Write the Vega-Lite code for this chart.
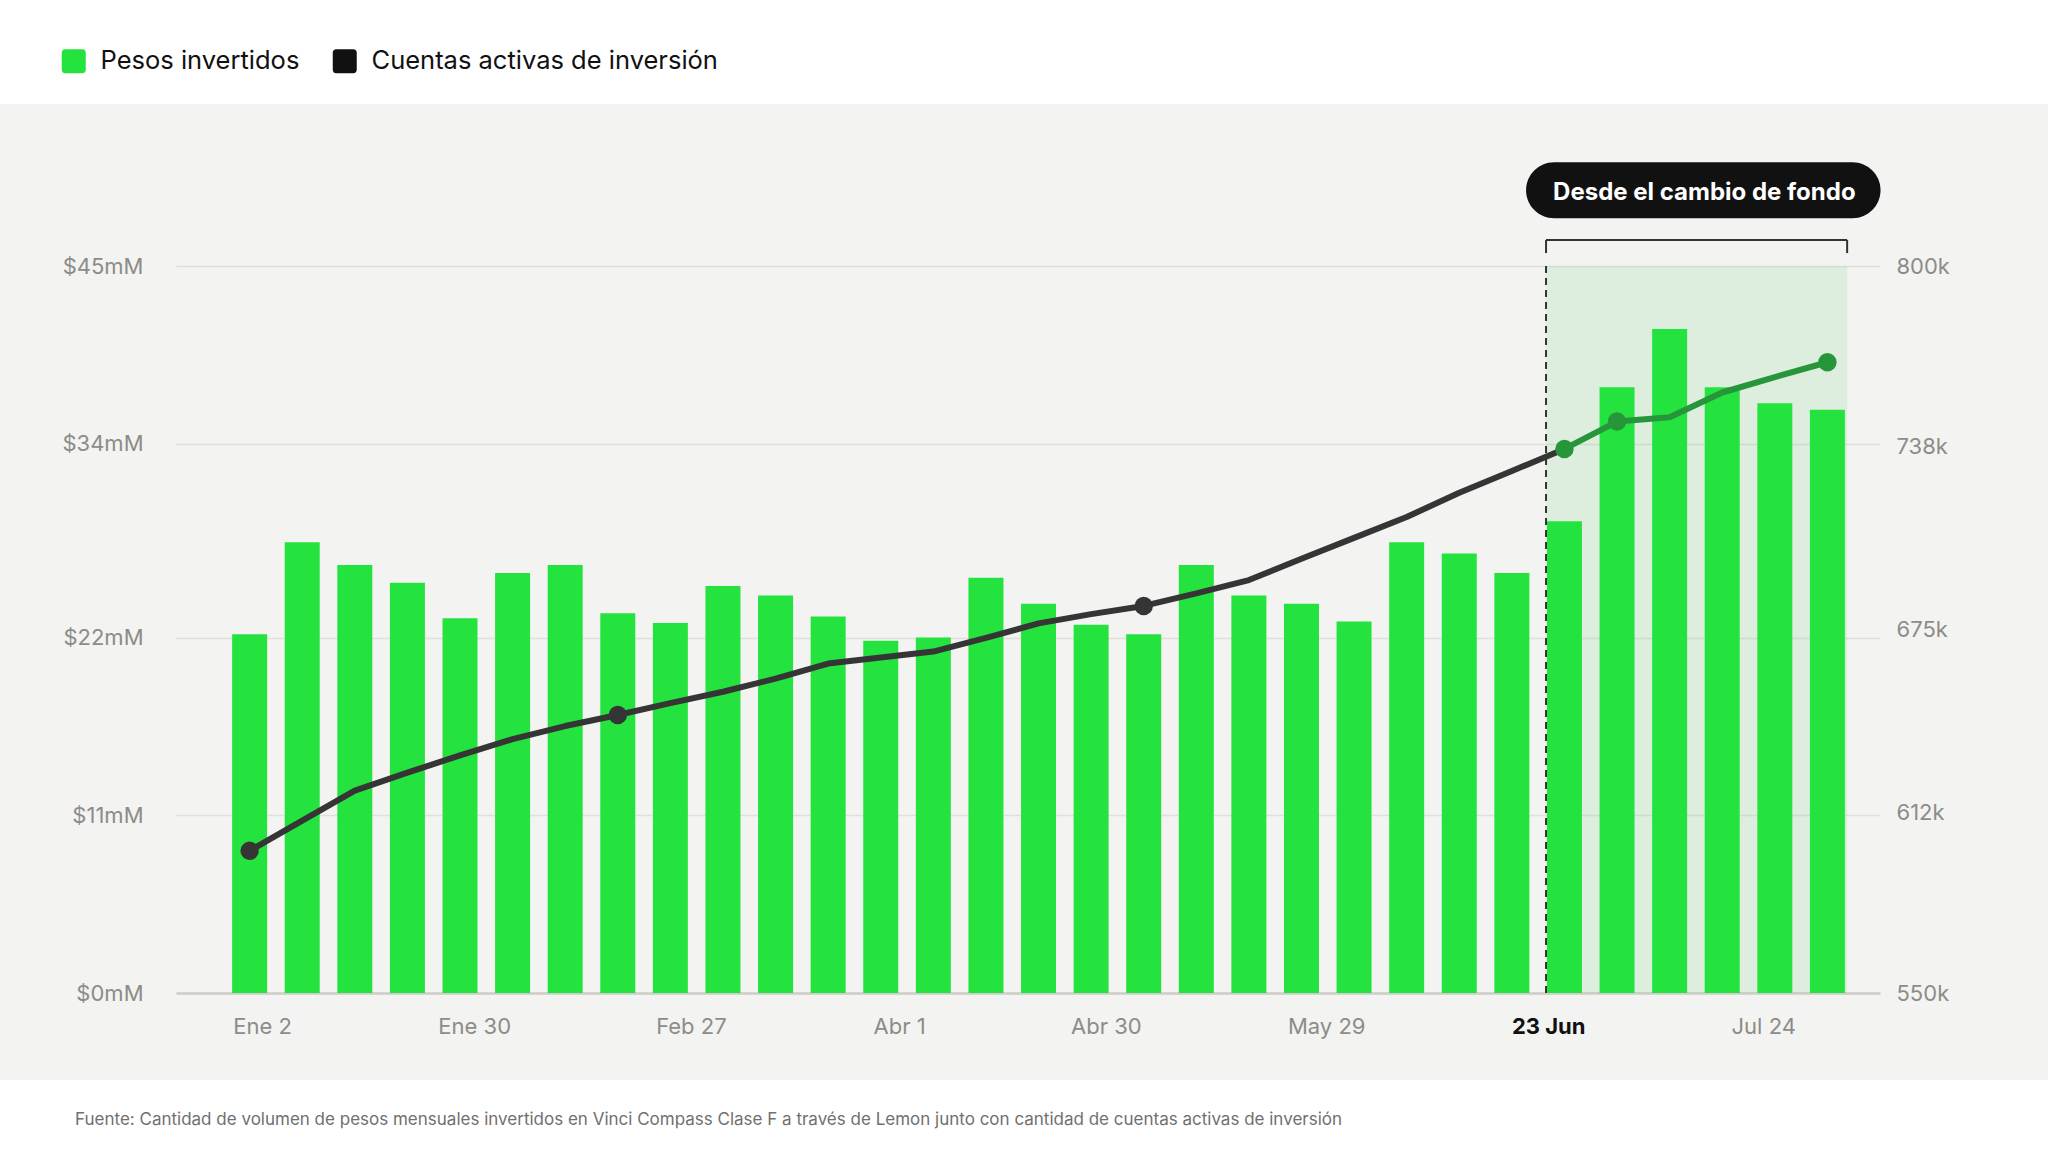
{
  "$schema": "https://vega.github.io/schema/vega-lite/v6.json",
  "width": 1704,
  "height": 727,
  "autosize": {"type": "none"},
  "padding": {"left": 176, "top": 266, "right": 168, "bottom": 159},
  "background": "#f3f3f1",
  "config": {"font": "Inter", "view": {"stroke": null}},
  "data": {
    "values": [
      {"semana": 1, "pesos": 22.2, "cuentas": 598900},
      {"semana": 2, "pesos": 27.9, "cuentas": 609300},
      {"semana": 3, "pesos": 26.5, "cuentas": 619600},
      {"semana": 4, "pesos": 25.4, "cuentas": 625800},
      {"semana": 5, "pesos": 23.2, "cuentas": 631700},
      {"semana": 6, "pesos": 26.0, "cuentas": 637300},
      {"semana": 7, "pesos": 26.5, "cuentas": 641800},
      {"semana": 8, "pesos": 23.5, "cuentas": 645600},
      {"semana": 9, "pesos": 22.9, "cuentas": 649700},
      {"semana": 10, "pesos": 25.2, "cuentas": 653600},
      {"semana": 11, "pesos": 24.6, "cuentas": 658100},
      {"semana": 12, "pesos": 23.3, "cuentas": 663300},
      {"semana": 13, "pesos": 21.8, "cuentas": 665400},
      {"semana": 14, "pesos": 22.0, "cuentas": 667400},
      {"semana": 15, "pesos": 25.7, "cuentas": 672100},
      {"semana": 16, "pesos": 24.1, "cuentas": 677100},
      {"semana": 17, "pesos": 22.8, "cuentas": 680300},
      {"semana": 18, "pesos": 22.2, "cuentas": 683100},
      {"semana": 19, "pesos": 26.5, "cuentas": 687400},
      {"semana": 20, "pesos": 24.6, "cuentas": 692000},
      {"semana": 21, "pesos": 24.1, "cuentas": 699300},
      {"semana": 22, "pesos": 23.0, "cuentas": 706500},
      {"semana": 23, "pesos": 27.9, "cuentas": 713700},
      {"semana": 24, "pesos": 27.2, "cuentas": 722000},
      {"semana": 25, "pesos": 26.0, "cuentas": 729500},
      {"semana": 26, "pesos": 29.2, "cuentas": 737100},
      {"semana": 27, "pesos": 37.5, "cuentas": 746500},
      {"semana": 28, "pesos": 41.1, "cuentas": 748000},
      {"semana": 29, "pesos": 37.5, "cuentas": 756500},
      {"semana": 30, "pesos": 36.5, "cuentas": 761800},
      {"semana": 31, "pesos": 36.1, "cuentas": 766900}
    ]
  },
  "layer": [
    {
      "layer": [
        {
          "data": {"values": [{}]},
          "mark": {"type": "rect", "fill": "white", "clip": false},
          "encoding": {
            "x": {"datum": -4, "scale": {"domain": [-0.4, 32], "nice": false, "zero": false, "padding": 0}, "title": null},
            "x2": {"datum": 36},
            "y": {"datum": 55.03, "scale": {"domain": [0, 45], "nice": false, "padding": 0}, "title": null},
            "y2": {"datum": 80}
          }
        },
        {
          "data": {"values": [{}]},
          "mark": {"type": "rect", "fill": "white", "clip": false},
          "encoding": {
            "x": {"datum": -4, "scale": {"domain": [-0.4, 32], "nice": false, "zero": false, "padding": 0}, "title": null},
            "x2": {"datum": 36},
            "y": {"datum": -5.385, "scale": {"domain": [0, 45], "nice": false, "padding": 0}, "title": null},
            "y2": {"datum": -9.84}
          }
        },
        {
          "data": {"values": [{}]},
          "mark": {"type": "rect", "fill": "#22c93c", "opacity": 0.1},
          "encoding": {
            "x": {"datum": 25.65, "scale": {"domain": [-0.4, 32], "nice": false, "zero": false, "padding": 0}, "title": null},
            "x2": {"datum": 31.375},
            "y": {"datum": 0, "scale": {"domain": [0, 45], "nice": false, "padding": 0}, "title": null},
            "y2": {"datum": 45}
          }
        },
        {
          "mark": {"type": "bar", "size": 35},
          "encoding": {
            "x": {
              "field": "semana", "type": "quantitative", "title": null,
              "scale": {"domain": [-0.4, 32], "nice": false, "zero": false, "padding": 0},
              "axis": {
                "values": [1.235, 5.27, 9.39, 13.35, 17.28, 21.47, 25.69, 29.78],
                "labelExpr": "datum.value < 3 ? 'Ene 2' : datum.value < 7 ? 'Ene 30' : datum.value < 11 ? 'Feb 27' : datum.value < 15 ? 'Abr 1' : datum.value < 19 ? 'Abr 30' : datum.value < 23 ? 'May 29' : datum.value < 27 ? '23 Jun' : 'Jul 24'",
                "grid": false, "ticks": false,
                "domain": true, "domainColor": "#cfcdc8", "domainWidth": 2.5,
                "labelPadding": 23, "labelFontSize": 22, "labelFont": "Inter",
                "labelColor": {"condition": {"test": "datum.value > 25 && datum.value < 26", "value": "#111111"}, "value": "#8c8c88"},
                "labelFontWeight": {"condition": {"test": "datum.value > 25 && datum.value < 26", "value": "bold"}, "value": "normal"},
                "labelFlush": false, "labelOverlap": false
              }
            },
            "y": {
              "field": "pesos", "type": "quantitative", "title": null,
              "scale": {"domain": [0, 45], "nice": false, "padding": 0},
              "axis": {
                "orient": "left",
                "values": [0, 11, 22, 34, 45],
                "labelExpr": "'$' + datum.value + 'mM'",
                "grid": true, "gridColor": "#e0e0db", "gridWidth": 1.5,
                "domain": false, "ticks": false,
                "labelPadding": 33, "labelFontSize": 22, "labelFont": "Inter", "labelColor": "#8c8c88"
              }
            },
            "color": {
              "datum": "Pesos invertidos",
              "scale": {"domain": ["Pesos invertidos", "Cuentas activas de inversión"], "range": ["#25e33f", "#111111"]},
              "legend": {
                "title": null, "orient": "none", "legendX": -115, "legendY": -218,
                "direction": "horizontal", "padding": 0, "zindex": 1,
                "symbolType": "M -0.7 -1 H 0.7 Q 1 -1 1 -0.7 V 0.7 Q 1 1 0.7 1 H -0.7 Q -1 1 -1 0.7 V -0.7 Q -1 -1 -0.7 -1 Z",
                "symbolSize": 576, "symbolStrokeWidth": 0, "symbolOpacity": 1,
                "labelFontSize": 25.5, "labelFont": "Inter", "labelColor": "#111111", "labelLimit": 0,
                "labelOffset": 14, "columnPadding": 32
              }
            }
          }
        },
        {
          "data": {"values": [{}]},
          "mark": {"type": "rule", "color": "#333333", "strokeWidth": 2, "strokeDash": [7, 5]},
          "encoding": {
            "x": {"datum": 25.65, "scale": {"domain": [-0.4, 32], "nice": false, "zero": false, "padding": 0}, "title": null},
            "y": {"datum": 0, "scale": {"domain": [0, 45], "nice": false, "padding": 0}, "title": null},
            "y2": {"datum": 45}
          }
        },
        {
          "data": {"values": [{}]},
          "mark": {"type": "rule", "color": "#333333", "strokeWidth": 2, "clip": false},
          "encoding": {
            "x": {"datum": 25.65, "scale": {"domain": [-0.4, 32], "nice": false, "zero": false, "padding": 0}, "title": null},
            "x2": {"datum": 31.375},
            "y": {"datum": 46.61, "scale": {"domain": [0, 45], "nice": false, "padding": 0}, "title": null}
          }
        },
        {
          "data": {"values": [{"lado": 25.65}, {"lado": 31.375}]},
          "mark": {"type": "rule", "color": "#333333", "strokeWidth": 2, "clip": false},
          "encoding": {
            "x": {"field": "lado", "type": "quantitative", "scale": {"domain": [-0.4, 32], "nice": false, "zero": false, "padding": 0}, "title": null},
            "y": {"datum": 46.61, "scale": {"domain": [0, 45], "nice": false, "padding": 0}, "title": null},
            "y2": {"datum": 45.8}
          }
        },
        {
          "data": {"values": [{}]},
          "mark": {"type": "rect", "fill": "#111111", "cornerRadius": 28, "clip": false},
          "encoding": {
            "x": {"datum": 25.27, "scale": {"domain": [-0.4, 32], "nice": false, "zero": false, "padding": 0}, "title": null},
            "x2": {"datum": 32.01},
            "y": {"datum": 51.42, "scale": {"domain": [0, 45], "nice": false, "padding": 0}, "title": null},
            "y2": {"datum": 47.95}
          }
        },
        {
          "data": {"values": [{"etiqueta": "Desde el cambio de fondo"}]},
          "mark": {"type": "text", "color": "white", "font": "Inter", "fontSize": 24, "fontWeight": "bold", "align": "center", "baseline": "middle", "clip": false},
          "encoding": {
            "x": {"datum": 28.66, "scale": {"domain": [-0.4, 32], "nice": false, "zero": false, "padding": 0}, "title": null},
            "y": {"datum": 49.52, "scale": {"domain": [0, 45], "nice": false, "padding": 0}, "title": null},
            "text": {"field": "etiqueta"}
          }
        },
        {
          "data": {"values": [{"fuente": "Fuente: Cantidad de volumen de pesos mensuales invertidos en Vinci Compass Clase F a través de Lemon junto con cantidad de cuentas activas de inversión"}]},
          "mark": {"type": "text", "color": "#707070", "font": "Inter", "fontSize": 17, "align": "left", "baseline": "middle", "clip": false},
          "encoding": {
            "x": {"datum": -2.32, "scale": {"domain": [-0.4, 32], "nice": false, "zero": false, "padding": 0}, "title": null},
            "y": {"datum": -7.85, "scale": {"domain": [0, 45], "nice": false, "padding": 0}, "title": null},
            "text": {"field": "fuente"}
          }
        }
      ]
    },
    {
      "layer": [
        {
          "transform": [{"filter": "datum.semana <= 26"}],
          "mark": {"type": "line", "color": "#353535", "strokeWidth": 6, "strokeJoin": "round"},
          "encoding": {
            "x": {"field": "semana", "type": "quantitative", "title": null, "scale": {"domain": [-0.4, 32], "nice": false, "zero": false, "padding": 0}},
            "y": {
              "field": "cuentas", "type": "quantitative", "title": null,
              "scale": {"domain": [550000, 800000], "nice": false, "zero": false, "padding": 0},
              "axis": {
                "orient": "right",
                "values": [550000, 612000, 675000, 738000, 800000],
                "labelExpr": "(datum.value / 1000) + 'k'",
                "grid": false, "domain": false, "ticks": false,
                "labelPadding": 16, "labelFontSize": 22, "labelFont": "Inter", "labelColor": "#8c8c88"
              }
            }
          }
        },
        {
          "transform": [{"filter": "datum.semana >= 26"}],
          "mark": {"type": "line", "color": "#27963a", "strokeWidth": 6, "strokeJoin": "round"},
          "encoding": {
            "x": {"field": "semana", "type": "quantitative", "title": null, "scale": {"domain": [-0.4, 32], "nice": false, "zero": false, "padding": 0}},
            "y": {"field": "cuentas", "type": "quantitative", "title": null, "scale": {"domain": [550000, 800000], "nice": false, "zero": false, "padding": 0}}
          }
        },
        {
          "transform": [{"filter": {"field": "semana", "oneOf": [1, 8, 18]}}],
          "mark": {"type": "circle", "color": "#353535", "size": 340, "opacity": 1},
          "encoding": {
            "x": {"field": "semana", "type": "quantitative", "title": null, "scale": {"domain": [-0.4, 32], "nice": false, "zero": false, "padding": 0}},
            "y": {"field": "cuentas", "type": "quantitative", "title": null, "scale": {"domain": [550000, 800000], "nice": false, "zero": false, "padding": 0}}
          }
        },
        {
          "transform": [{"filter": {"field": "semana", "oneOf": [26, 27, 31]}}],
          "mark": {"type": "circle", "color": "#27963a", "size": 340, "opacity": 1},
          "encoding": {
            "x": {"field": "semana", "type": "quantitative", "title": null, "scale": {"domain": [-0.4, 32], "nice": false, "zero": false, "padding": 0}},
            "y": {"field": "cuentas", "type": "quantitative", "title": null, "scale": {"domain": [550000, 800000], "nice": false, "zero": false, "padding": 0}}
          }
        }
      ]
    }
  ],
  "resolve": {"scale": {"y": "independent"}, "axis": {"y": "independent"}}
}
